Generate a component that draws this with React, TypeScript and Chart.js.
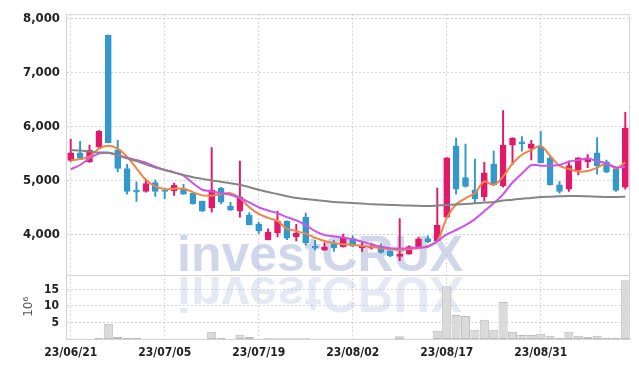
import React, { useEffect, useRef } from 'react';
import { Chart, registerables } from 'chart.js';

Chart.register(...registerables);

const dates = [
  '23/06/21', '23/06/22', '23/06/23', '23/06/26', '23/06/27', '23/06/28', '23/06/29', '23/06/30',
  '23/07/03', '23/07/04', '23/07/05', '23/07/06', '23/07/07', '23/07/10', '23/07/11', '23/07/12',
  '23/07/13', '23/07/14', '23/07/17', '23/07/18', '23/07/19', '23/07/20', '23/07/21', '23/07/24',
  '23/07/25', '23/07/26', '23/07/27', '23/07/28', '23/07/31', '23/08/01', '23/08/02', '23/08/03',
  '23/08/04', '23/08/07', '23/08/08', '23/08/09', '23/08/10', '23/08/11', '23/08/14', '23/08/16',
  '23/08/17', '23/08/18', '23/08/21', '23/08/22', '23/08/23', '23/08/24', '23/08/25', '23/08/28',
  '23/08/29', '23/08/30', '23/08/31', '23/09/01', '23/09/04', '23/09/05', '23/09/06', '23/09/07',
  '23/09/08', '23/09/11', '23/09/12', '23/09/13',
];

const tickLabels = ['23/06/21', '23/07/05', '23/07/19', '23/08/02', '23/08/17', '23/08/31'];

const opens = [
  5367, 5508, 5337, 5618, 7692, 5563, 5214, 4816, 4792, 4958,
  4816, 4805, 4842, 4756, 4609, 4486, 4848, 4517, 4431, 4352,
  4187, 3899, 4027, 4242, 3954, 4310, 3778, 3704, 3826, 3765,
  3917, 3752, 3741, 3783, 3691, 3587, 3631, 3752, 3917, 3875,
  4315, 5637, 5049, 4824, 4695, 5301, 4897, 5649, 5710, 5587,
  5618, 5416, 4915, 4835, 5190, 5343, 5508, 5343, 5202, 4871,
];

const highs = [
  5759, 5723, 5649, 5920, 7692, 5741, 5293, 4970, 5000, 5007,
  4829, 4945, 4926, 4760, 4612, 5605, 4866, 4591, 5356, 4402,
  4224, 4101, 4426, 4245, 4181, 4389, 3888, 3844, 3888, 4000,
  3967, 3851, 3826, 3826, 3695, 4291, 3783, 3948, 3967, 4853,
  5420, 5783, 5668, 5393, 5330, 5539, 6292, 5790, 5807, 5741,
  5906, 5453, 4976, 5361, 5420, 5477, 5789, 5374, 5233, 6260,
];

const lows = [
  5350, 5389, 5330, 5587, 5690, 5160, 4743, 4609, 4780, 4701,
  4658, 4719, 4737, 4555, 4420, 4407, 4559, 4440, 4315, 4170,
  4016, 3895, 3948, 3899, 3875, 3796, 3704, 3700, 3679, 3760,
  3775, 3679, 3723, 3649, 3581, 3508, 3628, 3750, 3844, 3872,
  4310, 4743, 4871, 4567, 4622, 4903, 4871, 5293, 5539, 5374,
  5320, 4910, 4761, 4792, 5099, 5233, 5110, 5140, 4792, 4834,
];

const closes = [
  5508, 5416, 5558, 5912, 5697, 5220, 4792, 4780, 4939, 4792,
  4792, 4903, 4743, 4559, 4425, 4824, 4591, 4444, 4682, 4174,
  4059, 4040, 4242, 3925, 4022, 3844, 3741, 3765, 3752, 3936,
  3778, 3783, 3783, 3660, 3600, 3631, 3771, 3912, 3862, 4169,
  5416, 4835, 4884, 4658, 5136, 4915, 5649, 5783, 5679, 5673,
  5325, 4915, 4792, 5270, 5416, 5416, 5270, 5147, 4811, 5967,
];

// volume in millions of shares
const volumes = [
  0.1, 0.1, 0.1, 0.3, 4.6, 0.6, 0.3, 0.3, 0.1, 0.1,
  0.1, 0.1, 0.1, 0.1, 0.1, 2.2, 0.3, 0.1, 1.3, 0.6,
  0.1, 0.2, 0.2, 0.2, 0.2, 0.2, 0.1, 0.1, 0.1, 0.1,
  0.1, 0.1, 0.1, 0.1, 0.1, 0.8, 0.1, 0.1, 0.1, 2.5,
  16.0, 7.3, 7.0, 2.8, 5.8, 2.8, 11.2, 2.2, 1.2, 1.2,
  1.6, 1.0, 0.4, 2.2, 1.0, 0.6, 1.0, 0.4, 0.4, 17.8,
];

const maShort = [
  5367, 5392, 5435, 5587, 5637, 5587, 5435, 5220, 5007, 4884,
  4835, 4842, 4842, 4780, 4719, 4714, 4743, 4761, 4670, 4499,
  4376, 4303, 4242, 4101, 4058, 4009, 3936, 3875, 3838, 3814,
  3802, 3783, 3765, 3741, 3723, 3704, 3723, 3741, 3783, 3875,
  4297, 4554, 4664, 4765, 4976, 4915, 5068, 5306, 5471, 5558,
  5637, 5453, 5270, 5209, 5160, 5172, 5233, 5312, 5220, 5330,
];

const maMid = [
  5202, 5282, 5404, 5495, 5508, 5466, 5416, 5374, 5325, 5251,
  5191, 5147, 5086, 4945, 4824, 4792, 4761, 4732, 4670, 4591,
  4499, 4438, 4389, 4315, 4255, 4169, 4058, 3985, 3961, 3936,
  3906, 3862, 3814, 3765, 3741, 3734, 3741, 3752, 3765, 3870,
  3995, 4077, 4169, 4279, 4426, 4572, 4738, 4958, 5123, 5282,
  5270, 5270, 5282, 5343, 5374, 5404, 5356, 5312, 5238, 5251,
];

const maLong = [
  5558, 5550, 5532, 5514, 5508, 5466, 5404, 5356, 5293, 5233,
  5191, 5141, 5099, 5055, 5025, 4994, 4970, 4945, 4915, 4871,
  4824, 4780, 4743, 4701, 4670, 4651, 4633, 4614, 4596, 4585,
  4578, 4567, 4554, 4548, 4541, 4536, 4530, 4525, 4522, 4530,
  4540, 4548, 4559, 4572, 4585, 4596, 4622, 4640, 4658, 4670,
  4688, 4695, 4701, 4706, 4706, 4701, 4695, 4688, 4688, 4695,
];

const priceTicks = [4000, 5000, 6000, 7000, 8000];
const volumeTicks = [5, 10, 15];
const WATERMARK = 'investCRUX';

const UP = '#e2196b';
const DOWN = '#3398cc';
const GRID = 'rgba(185,185,210,0.6)';
const FRAME = '#d4d4d8';
const FONT = "'DejaVu Sans Condensed', 'DejaVu Sans', sans-serif";

const watermarkPlugin = {
  id: 'watermark',
  beforeDatasetsDraw(chart: any) {
    const { ctx, chartArea } = chart;
    const yScale = chart.scales.y;
    const mirror = yScale.bottom - 0.5;
    const x = chartArea.left + 111;
    const base = mirror - 3;
    ctx.save();
    ctx.font = 'bold 50px "Liberation Sans", Arial, sans-serif';
    ctx.textBaseline = 'alphabetic';
    ctx.fillStyle = 'rgba(170,182,218,0.55)';
    ctx.fillText(WATERMARK, x, base);
    ctx.translate(0, 2 * mirror);
    ctx.scale(1, -1);
    ctx.fillStyle = 'rgba(170,182,218,0.3)';
    ctx.fillText(WATERMARK, x, base);
    ctx.restore();
  },
};

const framePlugin = {
  id: 'frame',
  afterDraw(chart: any) {
    const { ctx, chartArea } = chart;
    const yScale = chart.scales.y;
    ctx.save();
    ctx.strokeStyle = FRAME;
    ctx.lineWidth = 1;
    ctx.strokeRect(chartArea.left + 0.5, chartArea.top + 0.5, chartArea.right - chartArea.left - 1, chartArea.bottom - chartArea.top);
    ctx.beginPath();
    ctx.moveTo(chartArea.left, Math.round(yScale.bottom) + 0.5);
    ctx.lineTo(chartArea.right, Math.round(yScale.bottom) + 0.5);
    ctx.stroke();
    ctx.restore();
  },
};

export default function App() {
  const ref = useRef<HTMLCanvasElement>(null);

  useEffect(() => {
    const canvas = ref.current;
    if (!canvas) return;
    const upDown = opens.map((o, i) => (closes[i] >= o ? UP : DOWN));
    const chart = new Chart(canvas, {
      type: 'bar',
      data: {
        labels: dates,
        datasets: [
          {
            type: 'line',
            label: 'MA long',
            data: maLong,
            yAxisID: 'y',
            borderColor: '#858585',
            borderWidth: 2,
            pointRadius: 0,
            tension: 0.35,
            order: 1,
          },
          {
            type: 'line',
            label: 'MA mid',
            data: maMid,
            yAxisID: 'y',
            borderColor: '#cc55e8',
            borderWidth: 2,
            pointRadius: 0,
            tension: 0.2,
            order: 1,
          },
          {
            type: 'line',
            label: 'MA short',
            data: maShort,
            yAxisID: 'y',
            borderColor: '#ee8446',
            borderWidth: 2,
            pointRadius: 0,
            tension: 0.35,
            order: 1,
          },
          {
            type: 'bar',
            label: 'wick',
            data: lows.map((l, i) => [l, highs[i]]),
            yAxisID: 'y',
            backgroundColor: upDown,
            borderWidth: 0,
            barThickness: 1.3,
            grouped: false,
            order: 3,
          },
          {
            type: 'bar',
            label: 'body',
            data: opens.map((o, i) => [o, closes[i]]),
            yAxisID: 'y',
            backgroundColor: upDown,
            borderColor: upDown,
            borderWidth: 1,
            borderSkipped: false,
            barThickness: 6,
            grouped: false,
            order: 2,
          },
          {
            type: 'bar',
            label: 'volume',
            data: volumes,
            yAxisID: 'yv',
            backgroundColor: '#dadada',
            borderColor: '#bcbcbc',
            borderWidth: 1,
            borderSkipped: false,
            barPercentage: 0.97,
            categoryPercentage: 1,
            grouped: false,
            order: 4,
          },
        ],
      } as any,
      options: {
        responsive: false,
        animation: false,
        devicePixelRatio: 1,
        layout: { padding: { top: 11, right: 9, left: 0, bottom: 0 } },
        plugins: {
          legend: { display: false },
          tooltip: { enabled: false },
        },
        scales: {
          x: {
            type: 'category',
            offset: true,
            grid: { offset: false, drawTicks: false, color: GRID, lineWidth: 1 },
            border: { color: FRAME, dash: [2, 2] },
            ticks: {
              autoSkip: false,
              maxRotation: 0,
              padding: 7,
              color: '#222',
              font: { family: FONT, size: 12, weight: 'bold' },
            },
            afterBuildTicks: (scale: any) => {
              scale.ticks = scale.ticks.filter((t: any) => tickLabels.includes(dates[t.value]));
            },
            afterFit: (scale: any) => {
              scale.height = 29;
            },
          },
          yv: {
            type: 'linear',
            position: 'left',
            stack: 'panels',
            stackWeight: 65,
            min: 0,
            max: 19.5,
            grid: { drawTicks: false, color: GRID, lineWidth: 1 },
            border: { color: FRAME, dash: [2, 2] },
            ticks: {
              autoSkip: false,
              padding: 7,
              color: '#222',
              font: { family: FONT, size: 12, weight: 'bold' },
            },
            title: {
              display: true,
              text: '10⁶',
              color: '#555',
              font: { family: "'DejaVu Sans', sans-serif", size: 12 },
              padding: { top: 22, bottom: 0 },
            },
            afterBuildTicks: (scale: any) => {
              scale.ticks = volumeTicks.map((v) => ({ value: v }));
            },
            afterFit: (scale: any) => {
              scale.width = 66;
            },
          },
          y: {
            type: 'linear',
            position: 'left',
            stack: 'panels',
            stackWeight: 263,
            min: 3250,
            max: 8077,
            grid: { drawTicks: false, color: GRID, lineWidth: 1 },
            border: { color: FRAME, dash: [2, 2] },
            ticks: {
              padding: 6,
              color: '#222',
              font: { family: FONT, size: 13, weight: 'bold' },
              callback: (v: any) => Number(v).toLocaleString('en-US'),
            },
            afterBuildTicks: (scale: any) => {
              scale.ticks = priceTicks.map((v) => ({ value: v }));
            },
            afterFit: (scale: any) => {
              scale.width = 66;
            },
          },
        } as any,
      },
      plugins: [watermarkPlugin, framePlugin],
    });
    return () => chart.destroy();
  }, []);

  return (
    <div style={{ position: 'fixed', left: 0, top: 0, width: 639, height: 368, background: '#fff' }}>
      <canvas ref={ref} width={639} height={368} style={{ display: 'block', width: 639, height: 368 }} />
    </div>
  );
}
